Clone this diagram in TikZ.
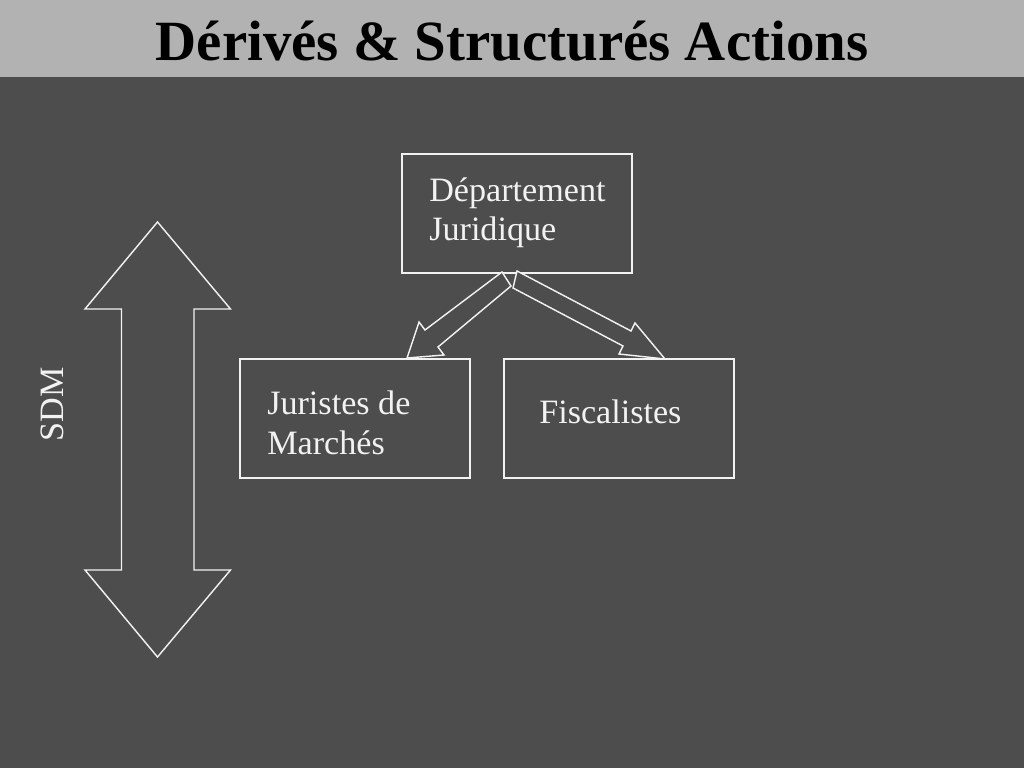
\documentclass[tikz,border=0pt]{standalone}
\usepackage{fontspec}
\setmainfont{Liberation Serif}
\usetikzlibrary{positioning}
\definecolor{slidebg}{HTML}{4D4D4D}
\definecolor{headbg}{HTML}{B2B2B2}
\definecolor{rule}{HTML}{F2F2F2}
\tikzset{
  box/.style={draw=rule, line width=1.1pt, minimum width=161.7pt, minimum height=83.7pt, inner sep=0pt},
  txt/.style={text=rule, font=\fontsize{24}{28}\selectfont, align=left, inner sep=0pt},
  blockarrow/.style={draw=rule, fill=slidebg, line width=1pt, line join=miter}
}
\begin{document}
\begin{tikzpicture}[x=0.703125pt, y=-0.703125pt]
	\useasboundingbox (0,0) rectangle (1024,768);
	\fill[slidebg] (0,0) rectangle (1024,768);
	\fill[headbg] (0,0) rectangle (1024,77);
	\node[font=\fontsize{40}{48}\selectfont\bfseries, anchor=base, inner sep=0pt] (title) at (512,61) {Dérivés \& Structurés Actions};
	% the three boxes
	\node[box, anchor=north west] (dj) at (401,153) {};
	\node[box, anchor=north west] (jm) at (239,358) {};
	\node[box, anchor=north west] (fi) at (503,358) {};
	\node[txt, anchor=base west] (dj-t) at (429,241) {Département\\Juridique};
	\node[txt, anchor=base west] (jm-t) at (267,454) {Juristes de\\Marchés};
	\node[txt, anchor=base west] (fi-t) at (539,423) {Fiscalistes};
	% block arrows from the top box
	\draw[blockarrow] (502,272) -- (425,330) -- (419,322) -- (407,358)
		-- (444,355) -- (438,347) -- (511,286) -- cycle;
	\draw[blockarrow] (517,271) -- (631,331) -- (635,323) -- (665,359)
		-- (619,354) -- (623,346) -- (513,288) -- cycle;
	% SDM double arrow
	\draw[blockarrow] (157.5,222) -- (230.5,309) -- (194,309) -- (194,570) -- (230.5,570)
		-- (157.5,657) -- (85,570) -- (121.5,570) -- (121.5,309) -- (85,309) -- cycle;
	\node[txt, rotate=90, anchor=base] (sdm) at (63,404.5) {SDM};
\end{tikzpicture}
\end{document}
